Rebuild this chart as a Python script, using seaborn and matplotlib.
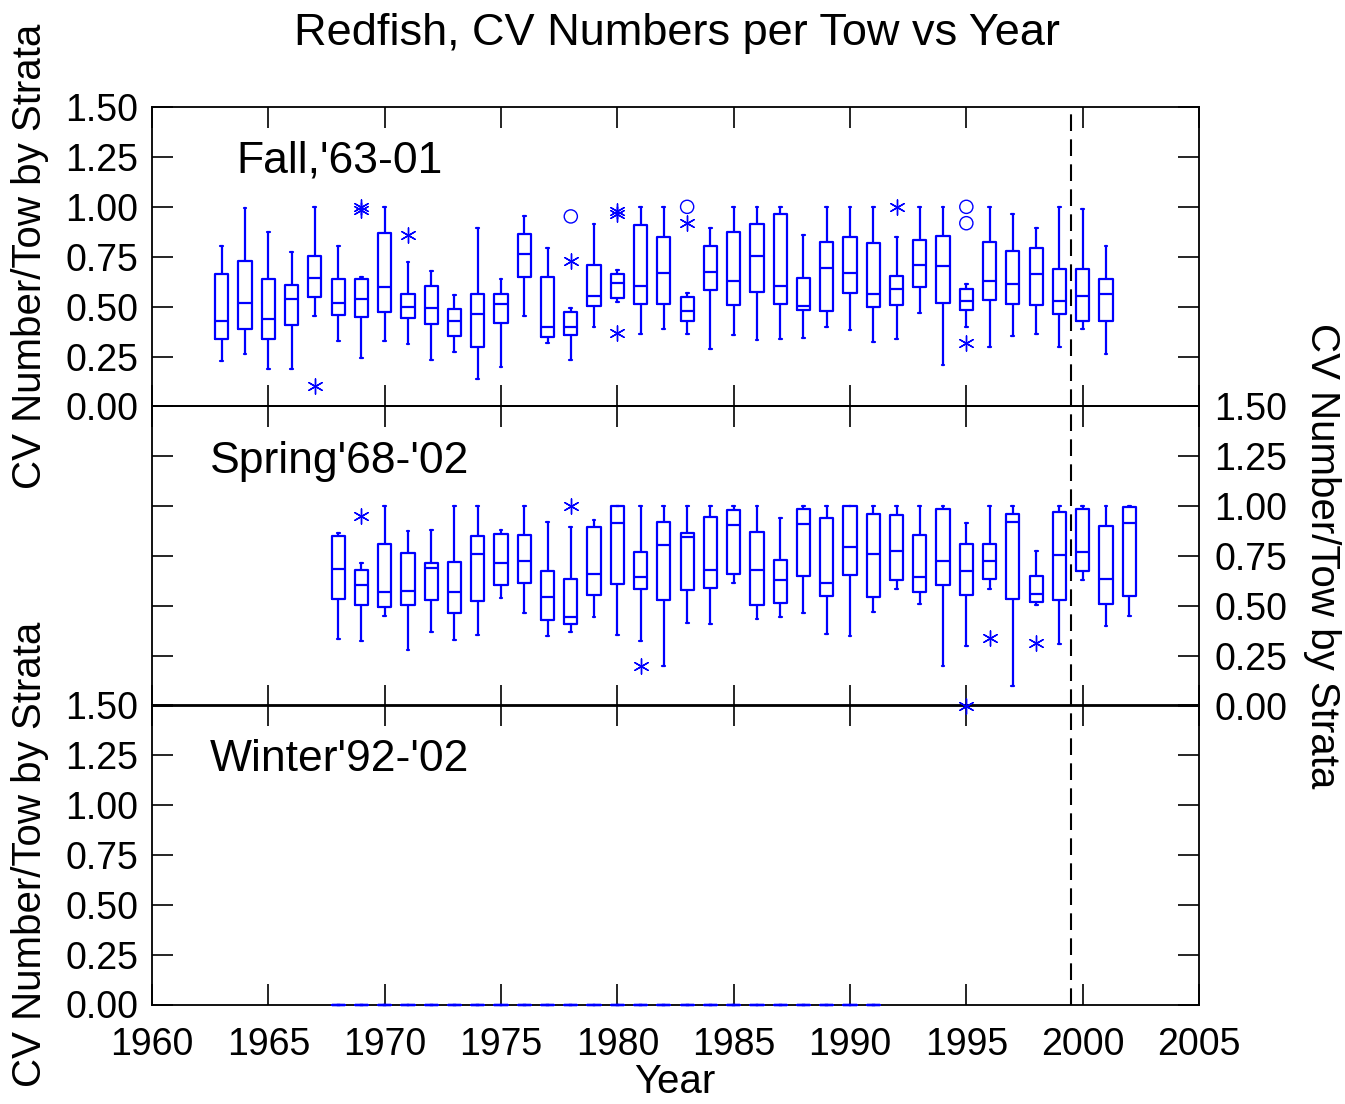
import numpy as np
import pandas as pd
import matplotlib
matplotlib.use("Agg")
import matplotlib.pyplot as plt
import seaborn as sns

# ---------------- data ----------------
fall_years = list(range(1963, 2002))
fall_low = [0.227, 0.262, 0.187, 0.189, 0.453, 0.328, 0.242, 0.328, 0.313, 0.232,
            0.273, 0.137, 0.199, 0.453, 0.320, 0.232, 0.398, 0.522, 0.363, 0.386,
            0.363, 0.289, 0.358, 0.335, 0.338, 0.343, 0.400, 0.385, 0.325, 0.338,
            0.470, 0.209, 0.400, 0.296, 0.353, 0.363, 0.299, 0.386, 0.264]
fall_q1 = [0.338, 0.390, 0.336, 0.406, 0.547, 0.460, 0.446, 0.472, 0.445, 0.411,
           0.355, 0.299, 0.416, 0.651, 0.350, 0.358, 0.501, 0.545, 0.513, 0.512,
           0.426, 0.581, 0.508, 0.574, 0.512, 0.485, 0.477, 0.567, 0.497, 0.510,
           0.601, 0.517, 0.483, 0.533, 0.512, 0.510, 0.462, 0.430, 0.426]
fall_med = [0.428, 0.520, 0.440, 0.538, 0.646, 0.518, 0.538, 0.597, 0.497, 0.493,
            0.426, 0.463, 0.515, 0.764, 0.396, 0.396, 0.554, 0.617, 0.602, 0.667,
            0.477, 0.674, 0.631, 0.756, 0.604, 0.502, 0.694, 0.667, 0.562, 0.589,
            0.711, 0.704, 0.527, 0.629, 0.614, 0.664, 0.528, 0.554, 0.564]
fall_q3 = [0.664, 0.731, 0.637, 0.607, 0.756, 0.637, 0.639, 0.868, 0.564, 0.604,
           0.488, 0.564, 0.564, 0.865, 0.649, 0.475, 0.709, 0.662, 0.908, 0.848,
           0.548, 0.803, 0.873, 0.913, 0.962, 0.644, 0.823, 0.848, 0.820, 0.654,
           0.835, 0.853, 0.589, 0.823, 0.778, 0.795, 0.691, 0.691, 0.637]
fall_high = [0.804, 0.995, 0.876, 0.774, 1.000, 0.806, 0.647, 1.000, 0.722, 0.679,
             0.557, 0.893, 0.637, 0.952, 0.795, 0.493, 0.915, 0.684, 1.000, 1.000,
             0.569, 0.895, 1.000, 1.000, 1.000, 0.858, 1.000, 1.000, 1.000, 0.850,
             1.000, 1.000, 0.614, 1.000, 0.965, 0.895, 1.000, 0.990, 0.804]
fall_star_years = [1967, 1969, 1969, 1971, 1978, 1980, 1980, 1980, 1983, 1992, 1995]
fall_star_vals = [0.105, 1.000, 0.985, 0.858, 0.728, 0.980, 0.963, 0.366, 0.917, 1.000, 0.318]
fall_circle_years = [1978, 1983, 1995, 1995]
fall_circle_vals = [0.952, 1.000, 1.000, 0.918]

spring_years = list(range(1968, 2003))
spring_low = [0.333, 0.323, 0.450, 0.278, 0.370, 0.326, 0.355, 0.538, 0.465, 0.346,
              0.366, 0.442, 0.355, 0.323, 0.196, 0.411, 0.406, 0.616, 0.432, 0.443,
              0.465, 0.358, 0.346, 0.467, 0.584, 0.510, 0.196, 0.298, 0.582, 0.097,
              0.503, 0.309, 0.629, 0.396, 0.448]
spring_q1 = [0.535, 0.502, 0.493, 0.502, 0.527, 0.462, 0.523, 0.602, 0.612, 0.430,
             0.406, 0.553, 0.607, 0.582, 0.527, 0.580, 0.587, 0.657, 0.503, 0.515,
             0.651, 0.547, 0.652, 0.545, 0.631, 0.569, 0.602, 0.552, 0.636, 0.535,
             0.518, 0.527, 0.674, 0.508, 0.547]
spring_med = [0.682, 0.604, 0.569, 0.574, 0.689, 0.567, 0.759, 0.714, 0.724, 0.542,
              0.445, 0.659, 0.912, 0.642, 0.806, 0.843, 0.681, 0.905, 0.681, 0.627,
              0.908, 0.616, 0.793, 0.761, 0.776, 0.644, 0.726, 0.672, 0.726, 0.920,
              0.560, 0.753, 0.771, 0.636, 0.912]
spring_q3 = [0.848, 0.677, 0.811, 0.766, 0.712, 0.718, 0.850, 0.858, 0.856, 0.672,
             0.632, 0.895, 1.000, 0.769, 0.920, 0.865, 0.942, 0.977, 0.870, 0.728,
             0.982, 0.940, 1.000, 0.958, 0.953, 0.855, 0.983, 0.811, 0.811, 0.958,
             0.647, 0.967, 0.983, 0.898, 0.993]
spring_high = [0.865, 0.716, 1.000, 0.873, 0.880, 1.000, 1.000, 0.880, 1.000, 0.918,
               0.895, 0.930, 1.000, 1.000, 1.000, 1.000, 1.000, 1.000, 1.000, 0.937,
               1.000, 1.000, 1.000, 1.000, 1.000, 1.000, 1.000, 0.912, 1.000, 1.000,
               0.773, 1.000, 1.000, 1.000, 1.000]
spring_star_years = [1969, 1978, 1981, 1995, 1996, 1998]
spring_star_vals = [0.947, 1.000, 0.197, 0.000, 0.340, 0.313]

winter_years = list(range(1968, 1992))
winter_vals = [0.0] * len(winter_years)

x_ticks = [1960, 1965, 1970, 1975, 1980, 1985, 1990, 1995, 2000, 2005]
y_ticks = [0.0, 0.25, 0.5, 0.75, 1.0, 1.25, 1.5]
y_ticklabels = ["0.00", "0.25", "0.50", "0.75", "1.00", "1.25", "1.50"]
divider_year = 1999.5

title = "Redfish, CV Numbers per Tow vs Year"
ylabel = "CV Number/Tow by Strata"
xlabel = "Year"
panel_names = ["Fall,'63-01", "Spring'68-'02", "Winter'92-'02"]


def long_frame(years, *stat_lists):
    rows = []
    for i, yr in enumerate(years):
        for s in stat_lists:
            rows.append((yr, s[i]))
    return pd.DataFrame(rows, columns=["year", "value"])


# ---------------- style ----------------
sns.set_style("ticks")
plt.rcParams["font.family"] = ["Liberation Sans", "DejaVu Sans"]
plt.rcParams["axes.linewidth"] = 1.3
plt.rcParams["text.color"] = "black"
plt.rcParams["axes.labelcolor"] = "black"
plt.rcParams["xtick.color"] = "black"
plt.rcParams["ytick.color"] = "black"

BLUE = "#0000FF"
W, H = 1345, 1104
fig = plt.figure(figsize=(W / 100, H / 100), dpi=100)
fig.patch.set_facecolor("white")
left, right = 152 / W, 1199 / W
tops = [107, 406, 705]
axes = []
for t in tops:
    ax = fig.add_axes([left, 1 - (t + 299.5) / H, right - left, 299.5 / H])
    ax.set_facecolor("none")
    axes.append(ax)

fall_df = long_frame(fall_years, fall_low, fall_q1, fall_med, fall_q3, fall_high)
spring_df = long_frame(spring_years, spring_low, spring_q1, spring_med, spring_q3, spring_high)
winter_df = pd.DataFrame({"year": winter_years, "value": winter_vals})

box_kw = dict(x="year", y="value", native_scale=True, whis=(0, 100), fill=False,
              color=BLUE, linewidth=1.6, width=0.57, showfliers=False, capwidths=0.12)

sns.boxplot(data=fall_df, ax=axes[0], **box_kw)
sns.boxplot(data=spring_df, ax=axes[1], **box_kw)
sns.boxplot(data=winter_df, ax=axes[2], **box_kw)
for ln in axes[2].lines:
    ln.set_clip_on(False)
    ln.set_zorder(5)

star = (6, 2, 0)
sns.scatterplot(x=fall_star_years, y=fall_star_vals, marker=star, s=120, color=BLUE,
                linewidth=1.0, ax=axes[0], clip_on=False, legend=False, zorder=5)
sns.scatterplot(x=fall_circle_years, y=fall_circle_vals, marker="o", s=90,
                facecolor="none", edgecolor=BLUE, linewidth=1.0, ax=axes[0],
                clip_on=False, legend=False, zorder=5)
sns.scatterplot(x=spring_star_years, y=spring_star_vals, marker=star, s=120, color=BLUE,
                linewidth=1.0, ax=axes[1], clip_on=False, legend=False, zorder=5)

label_pos = [(1963.61, 1.171), (1962.49, 1.163), (1962.49, 1.169)]
for i, ax in enumerate(axes):
    ax.set_xlim(1960, 2005)
    ax.set_ylim(0, 1.5)
    ax.set_xticks(x_ticks)
    ax.set_yticks(y_ticks)
    ax.set_yticklabels(y_ticklabels)
    ax.set_xlabel("")
    ax.set_ylabel("")
    ax.axvline(divider_year, color="black", lw=1.5, ls=(0, (8, 4)), zorder=1)
    ax.tick_params(axis="both", direction="in", length=15, width=1.2,
                   top=True, right=True, labelsize=27, pad=10, colors="black")
    for sp in ax.spines.values():
        sp.set_visible(True)
        sp.set_linewidth(1.3)
        sp.set_color("black")
    ax.text(label_pos[i][0], label_pos[i][1], panel_names[i], fontsize=32,
            ha="left", va="baseline", color="black")
    if i < 2:
        ax.tick_params(axis="x", labelbottom=False)
    else:
        ax.tick_params(axis="x", labelbottom=True, pad=16)
    if i == 1:
        ax.tick_params(axis="y", labelleft=False, labelright=True, pad=11)

# make sure the middle panel (with the star on its lower edge) draws on top
axes[1].set_zorder(3)

fig.text(677 / W, 1 - 45 / H, title, fontsize=32.5, ha="center", va="baseline", color="black")
fig.text(675 / W, 1 - 1082 / H, xlabel, fontsize=29, ha="center", va="center", color="black")
fig.text(30 / W, 1 - 256 / H, ylabel, fontsize=29, rotation=90, ha="center", va="center", color="black")
fig.text(30 / W, 1 - 854 / H, ylabel, fontsize=29, rotation=90, ha="center", va="center", color="black")
fig.text(1322 / W, 1 - 556 / H, ylabel, fontsize=29, rotation=270, ha="center", va="center", color="black")

fig.savefig("out.png", dpi=100, facecolor="white")
